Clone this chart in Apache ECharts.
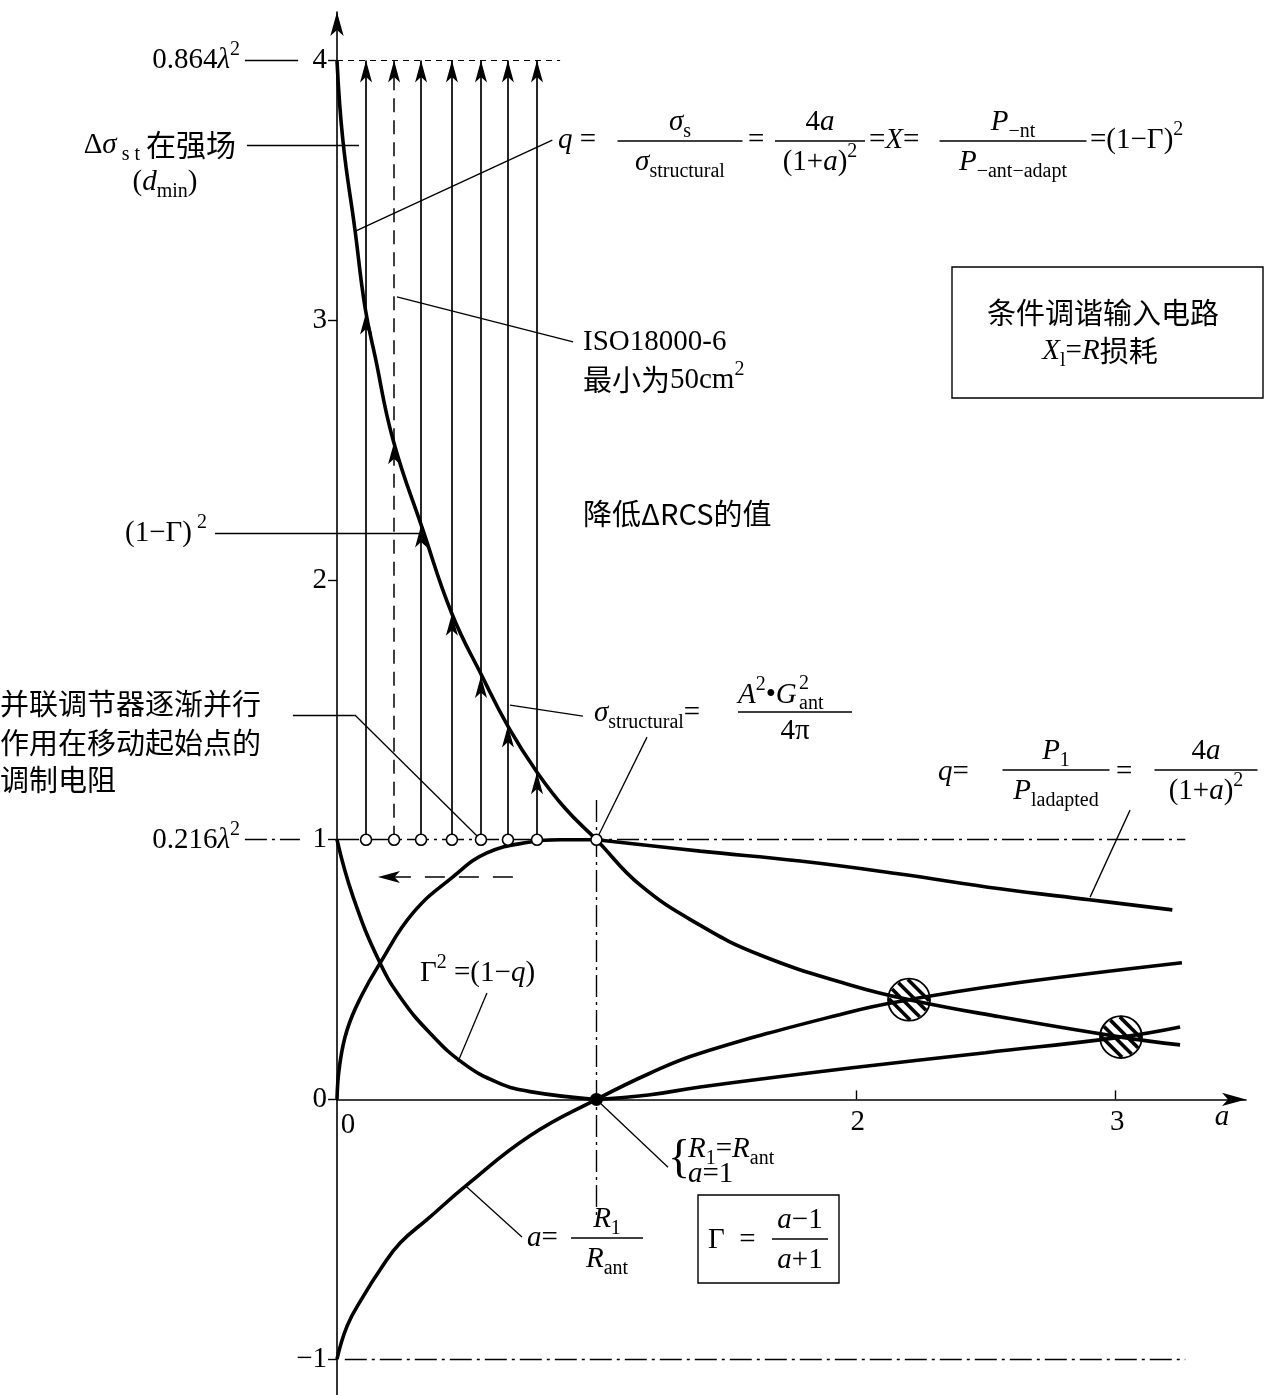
<!DOCTYPE html>
<html>
<head>
<meta charset="utf-8">
<title>q, Γ and σ against a</title>
<script src="https://cdn.jsdelivr.net/npm/echarts@6/dist/echarts.min.js"></script>
<style>
html,body{margin:0;padding:0;background:#fff}
#chart{width:1265px;height:1395px}
</style>
</head>
<body>
<div id="chart"></div>
<script>
// values, x = a = R1/Rant
var sigmaA = [0, 0.023, 0.069, 0.108, 0.147, 0.216, 0.332, 0.443, 0.559, 0.663, 0.771, 0.88, 1.0, 1.168, 1.399, 1.631, 1.978, 2.205, 2.556, 3.022, 3.25];
var sigmaV = [4.0, 3.69, 3.35, 3.05, 2.86, 2.54, 2.19, 1.87, 1.63, 1.43, 1.26, 1.12, 1.0, 0.826, 0.671, 0.556, 0.441, 0.384, 0.318, 0.240, 0.210];

var qLeftA = [0, 0.01, 0.039, 0.095, 0.166, 0.293, 0.447, 0.578, 0.744, 0.86, 1.0];
var qLeftV = [0, 0.13, 0.268, 0.40, 0.525, 0.718, 0.857, 0.949, 0.991, 1.0, 1.0];
var qRightA = [1.0, 1.40, 1.785, 2.17, 2.556, 2.90, 3.22];
var qRightV = [1.0, 0.956, 0.918, 0.868, 0.811, 0.769, 0.73];

var g2LeftA = [0, 0.062, 0.166, 0.25, 0.359, 0.486, 0.62, 0.744, 1.0];
var g2LeftV = [1.0, 0.78, 0.525, 0.385, 0.255, 0.14, 0.065, 0.03, 0];
var g2RightA = [1.0, 1.2, 1.4, 1.978, 2.5, 3.022, 3.25];
var g2RightV = [0, 0.017, 0.048, 0.121, 0.18, 0.240, 0.279];

var gammaA = [0, 0.04, 0.10, 0.17, 0.243, 0.35, 0.50, 0.744, 1.0, 1.2, 1.4, 1.978, 2.205, 2.556, 3.257];
var gammaV = [-1.0, -0.87, -0.76, -0.65, -0.553, -0.46, -0.33, -0.14, 0, 0.098, 0.178, 0.337, 0.384, 0.44, 0.526];

// the seven vertical arrows: start on q = 1, cross the σ curve, end at 4
var arrowA = [0.112, 0.220, 0.324, 0.443, 0.555, 0.659, 0.771];
var arrowHit = [3.03, 2.53, 2.21, 1.87, 1.63, 1.44, 1.26];
var dashedArrowIdx = 1;
var arrowFrom = 1, arrowTo = 4;

var crossA = [2.205, 3.022];   // hatched intersections
var crossV = [0.384, 0.240];
var matchPoint = [1, 0];
var knee = [1, 1];

var xTickVals = [2, 3];
var yTickVals = [-1, 0, 1, 2, 3, 4];

// guide lines [a1, v1, a2, v2]
var dashDot = [[0, 1, 3.27, 1], [0.03, -1, 3.27, -1], [1, 1.153, 1, -0.445], [-0.355, 1, -0.143, 1]];
var dashedTop = [[0, 4, 0.86, 4]];
var backArrow = [[0.678, 0.856, 0.158, 0.856]];
var leaders = [
  [-0.355, 4, -0.150, 4],
  [-0.347, 3.675, 0.085, 3.675],
  [0.830, 3.694, 0.069, 3.342],
  [0.231, 3.090, 0.910, 2.917],
  [-0.470, 2.181, 0.32, 2.181],
  [0.667, 1.518, 0.948, 1.476],
  [-0.170, 1.480, 0.069, 1.480],
  [0.069, 1.480, 0.540, 1.014],
  [1.0, 1.0, 1.195, 1.395],
  [2.903, 0.779, 3.057, 1.114],
  [0.466, 0.144, 0.578, 0.410],
  [1.0, 0.0, 1.276, -0.261],
  [0.493, -0.330, 0.713, -0.530]
];

var SERIF = '"Liberation Serif", "Times New Roman", serif';
var CJK = '"Noto Sans CJK SC", sans-serif';

function zip(a, v) { return a.map(function (x, i) { return [x, v[i]]; }); }
function segs(list) { return list.map(function (s) { return {coords: [[s[0], s[1]], [s[2], s[3]]]}; }); }

var rich = {
  n: {fontFamily: SERIF, fontSize: 29, lineHeight: 40, color: '#000'},
  i: {fontFamily: SERIF, fontSize: 29, fontStyle: 'italic', lineHeight: 40, color: '#000'},
  sub: {fontFamily: SERIF, fontSize: 20, lineHeight: 20, verticalAlign: 'bottom', color: '#000'},
  sup: {fontFamily: SERIF, fontSize: 20, lineHeight: 20, verticalAlign: 'top', color: '#000'},
  sm: {fontFamily: SERIF, fontSize: 20, lineHeight: 22, color: '#000'},
  c: {fontFamily: CJK, fontSize: 29, lineHeight: 40, color: '#000'},
  cw: {fontFamily: CJK, fontSize: 30, lineHeight: 40, color: '#000', padding: [0, 0, 0, 6]}
};

function T(x, y, s, align) {
  return {type: 'text', x: x, y: y, z: 10, style: {text: s, rich: rich, align: align || 'left', verticalAlign: 'middle', fill: '#000'}};
}
function F(cx, y, w, num, den) {
  return [
    T(cx, y - 19, num, 'center'),
    {type: 'line', z: 10, shape: {x1: cx - w / 2, y1: y, x2: cx + w / 2, y2: y}, style: {stroke: '#000', lineWidth: 1.4}},
    T(cx, y + 21, den, 'center')
  ];
}
function box(x, y, w, h) {
  return {type: 'rect', z: 10, shape: {x: x, y: y, width: w, height: h}, style: {fill: 'none', stroke: '#000', lineWidth: 1.4}};
}

var graphics = [].concat(
  [T(240, 60, '{n|0.864}{i|λ}{sup|2}', 'right'),
   T(236, 145, '{n|Δ}{i|σ}{sub| s t}{cw|在强场}', 'right'),
   T(165, 182, '{n|(}{i|d}{sub|min}{n|)}', 'center'),
   T(207, 533, '{n|(1−Γ)}{sup| 2}', 'right'),
   T(0, 704, '{c|并联调节器逐渐并行}'),
   T(0, 743, '{c|作用在移动起始点的}'),
   T(0, 780, '{c|调制电阻}'),
   T(240, 840, '{n|0.216}{i|λ}{sup|2}', 'right'),
   // top formula
   T(558, 140, '{i|q}{n| =}'),
   T(748, 140, '{n|=}'),
   T(869, 140, '{n|=}{i|X}{n|=}'),
   T(1090, 140, '{n|=(1−Γ)}{sup|2}'),
   T(583, 342, '{n|ISO18000-6}'),
   T(583, 380, '{c|最小为}{n|50cm}{sup|2}'),
   T(583, 514, '{c|降低ΔRCS的值}'),
   box(952, 267, 311, 131),
   T(1103, 313, '{c|条件调谐输入电路}', 'center'),
   T(1100, 351, '{i|X}{sub|l}{n|=}{i|R}{c|损耗}', 'center'),
   // σ structural
   T(594, 713, '{i|σ}{sub|structural}{n|=}'),
   T(738, 695, '{i|A}{sup|2}{n|•}{i|G}'),
   T(799, 684, '{sm|2}'),
   T(799, 704, '{sm|ant}'),
   T(795, 731, '{n|4π}', 'center'),
   {type: 'line', z: 10, shape: {x1: 738, y1: 712, x2: 852, y2: 712}, style: {stroke: '#000', lineWidth: 1.4}},
   // q right
   T(938, 772, '{i|q}{n|=}'),
   T(1116, 772, '{n|=}'),
   T(420, 973, '{n|Γ}{sup|2}{n| =(1−}{i|q}{n|)}'),
   {type: 'text', x: 668, y: 1160, z: 10, style: {text: '{', font: '46px ' + SERIF, fill: '#000', align: 'left', verticalAlign: 'middle'}},
   T(688, 1149, '{i|R}{sub|1}{n|=}{i|R}{sub|ant}'),
   T(688, 1174, '{i|a}{n|=1}'),
   T(527, 1238, '{i|a}{n|=}'),
   box(698, 1195, 141, 88),
   T(708, 1240, '{n|Γ  =}'),
   T(348, 1125, '{n|0}', 'center'),
   T(1222, 1117, '{i|a}', 'center')],
  F(680, 141, 125, '{i|σ}{sub|s}', '{i|σ}{sub|structural}'),
  F(820, 141, 90, '{n|4}{i|a}', '{n|(1+}{i|a}{n|)}{sup|2}'),
  F(1013, 141, 147, '{i|P}{sub|−nt}', '{i|P}{sub|−ant−adapt}'),
  F(1056, 770, 107, '{i|P}{sub|1}', '{i|P}{sub|ladapted}'),
  F(1206, 770, 103, '{n|4}{i|a}', '{n|(1+}{i|a}{n|)}{sup|2}'),
  F(607, 1238, 72, '{i|R}{sub|1}', '{i|R}{sub|ant}'),
  F(800, 1239, 56, '{i|a}{n|−1}', '{i|a}{n|+1}')
);

var solidArrows = [], dashedArrows = [];
arrowA.forEach(function (a, i) {
  var pair = [{coords: [[a, arrowFrom], [a, arrowHit[i]]]}, {coords: [[a, arrowHit[i]], [a, arrowTo]]}];
  if (i === dashedArrowIdx) dashedArrows = dashedArrows.concat(pair);
  else solidArrows = solidArrows.concat(pair);
});

function curve(name, pts) {
  return {name: name, type: 'line', data: pts, smooth: 0.45, showSymbol: false, symbol: 'none',
    clip: false, z: 4, lineStyle: {color: '#000', width: 3.6}, silent: true};
}
function straight(data, style, sym) {
  return {type: 'lines', coordinateSystem: 'cartesian2d', data: data, clip: false, silent: true, z: 3,
    symbol: sym ? ['none', 'arrow'] : ['none', 'none'], symbolSize: [[9, 22], [9, 22]],
    lineStyle: Object.assign({color: '#000', width: 1.4, opacity: 1, curveness: 0}, style)};
}

var option = {
  animation: false,
  backgroundColor: '#fff',
  grid: {left: 337, right: 19, top: 12, bottom: 0, containLabel: false, outerBoundsMode: 'none'},
  xAxis: {
    type: 'value', min: 0, max: 3.504,
    axisLine: {show: true, onZero: true, symbol: ['none', 'arrow'], symbolSize: [10, 24], lineStyle: {color: '#000', width: 1.6}},
    axisTick: {show: true, inside: true, length: 9, customValues: xTickVals, lineStyle: {color: '#000', width: 1.4}},
    axisLabel: {show: false},
    splitLine: {show: false}
  },
  yAxis: {
    type: 'value', min: -1.138, max: 4.187,
    axisLine: {show: true, onZero: true, symbol: ['none', 'arrow'], symbolSize: [10, 24], lineStyle: {color: '#000', width: 1.6}},
    axisTick: {show: true, inside: false, length: 9, customValues: yTickVals, lineStyle: {color: '#000', width: 1.4}},
    axisLabel: {customValues: yTickVals, color: '#000', fontFamily: SERIF, fontSize: 29, margin: 10,
      formatter: function (v) { return v < 0 ? '−' + (-v) : String(v); }},
    splitLine: {show: false}
  },
  graphic: graphics,
  series: [
    {type: 'custom', z: 1, silent: true, data: zip(crossA, crossV), clip: false,
      renderItem: function (params, api) {
        var c = api.coord([api.value(0), api.value(1)]);
        var r = 21, kids = [{type: 'circle', shape: {cx: c[0], cy: c[1], r: r}, style: {fill: '#fff', stroke: '#000', lineWidth: 1.8}}];
        [-13.5, -4.5, 4.5, 13.5].forEach(function (d) {
          var h = Math.sqrt(r * r - d * d) - 1, k = Math.SQRT1_2;
          kids.push({type: 'line', shape: {x1: c[0] + d * k - h * k, y1: c[1] - d * k - h * k, x2: c[0] + d * k + h * k, y2: c[1] - d * k + h * k},
            style: {stroke: '#000', lineWidth: 3.6}});
        });
        return {type: 'group', children: kids};
      }},
    straight(segs(dashDot), {type: [22, 5, 3, 5]}, false),
    straight(segs(dashedTop), {type: [6, 5], width: 1.2}, false),
    straight(segs(leaders), {width: 1.3}, false),
    straight(segs(backArrow), {type: [20, 14], width: 1.6}, true),
    straight(solidArrows, {width: 1.7}, true),
    straight(dashedArrows, {type: [14, 8], width: 1.5}, true),
    curve('σ', zip(sigmaA, sigmaV)),
    curve('q-left', zip(qLeftA, qLeftV)),
    curve('q-right', zip(qRightA, qRightV)),
    curve('Γ² left', zip(g2LeftA, g2LeftV)),
    curve('Γ² right', zip(g2RightA, g2RightV)),
    curve('Γ', zip(gammaA, gammaV)),
    {type: 'scatter', z: 6, silent: true, symbol: 'circle', symbolSize: 11,
      data: arrowA.map(function (a) { return [a, arrowFrom]; }).concat([knee]),
      itemStyle: {color: '#fff', borderColor: '#000', borderWidth: 1.6, opacity: 1}},
    {type: 'scatter', z: 6, silent: true, symbol: 'circle', symbolSize: 13, data: [matchPoint],
      itemStyle: {color: '#000', opacity: 1}}
  ]
};

var chart = echarts.init(document.getElementById('chart'), null, {renderer: 'canvas'});
chart.setOption(option);

// x tick labels sit under the zero line; place them from the axis scale
var xLabels = xTickVals.map(function (v) {
  var p = chart.convertToPixel({gridIndex: 0}, [v, 0]);
  return T(p[0] + 2, p[1] + 23, '{n|' + v + '}', 'center');
});
chart.setOption({graphic: graphics.concat(xLabels)});
</script>
</body>
</html>
